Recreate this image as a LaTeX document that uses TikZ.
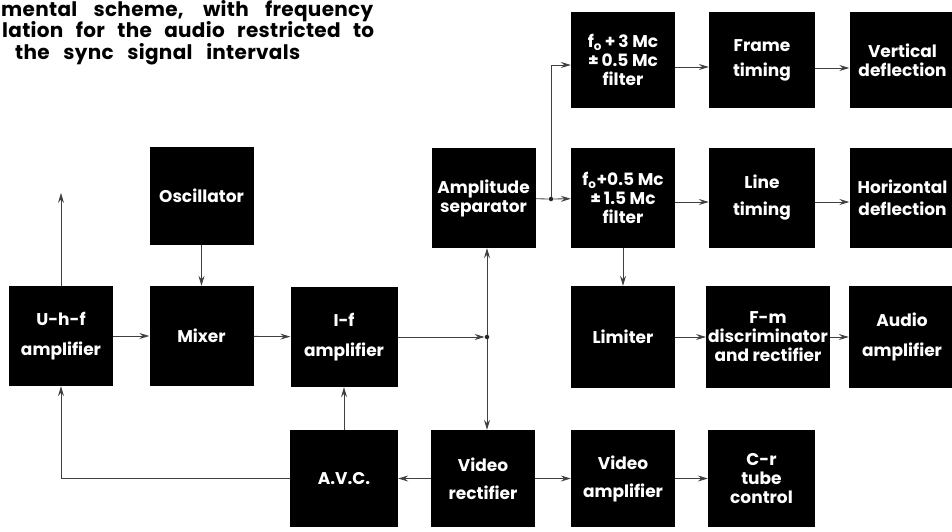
\documentclass[tikz,border=0pt]{standalone}
\usepackage{fontspec}
\setmainfont{Poppins}
\newfontfamily\capfont[LetterSpace=1.5]{Poppins}
\usetikzlibrary{arrows.meta}

\begin{document}
\begin{tikzpicture}[
    x=1pt, y=1pt,
    font=\bfseries\fontsize{17}{19}\selectfont,
    block/.style={
      fill=black, text=white, align=center,
      minimum width=104pt, minimum height=100pt,
      inner sep=2pt
    },
    caption/.style={font=\capfont\bfseries\fontsize{20}{22}\selectfont, inner sep=0pt, anchor=base west},
    wire/.style={line width=0.8pt, draw=black!75},
    arr/.style={wire, -{Stealth[length=10pt,width=6pt,inset=3.5pt]}},
    dot/.style={circle, fill=black!85, inner sep=0pt, minimum size=4.5pt}
  ]
    \useasboundingbox (0,0) rectangle (952,531);

    \node[caption] (capa) at (1,514) {\makebox[372pt][s]{mental scheme, with frequency}};
    \node[caption] (capb) at (2,493) {\makebox[372pt][s]{lation for the audio restricted to}};
    \node[caption] (capc) at (15,471) {\makebox[285pt][s]{the sync signal intervals}};

    \node[block] (uhf) at (61,195) {U-h-f\\[11pt]amplifier};
    \node[block, minimum height=98pt] (osc) at (201.5,335) {Oscillator};
    \node[block] (mix) at (201.5,195) {Mixer};
    \node[block, minimum width=107pt] (if) at (344,194) {I-f\\[11pt]amplifier};
    \node[block, minimum width=108pt, minimum height=97pt] (avc) at (344,52.5) {A.V.C.};
    \node[block] (sep) at (483.5,333) {Amplitude\\separator};
    \node[block, minimum height=97pt] (vrect) at (483,52.5) {Video\\[9pt]rectifier};
    \node[block, minimum height=97pt] (vamp) at (623,52.5) {Video\\[9pt]amplifier};
    \node[block, minimum width=107pt, minimum height=97pt] (crt) at (761.5,52.5) {C-r\\tube\\control};
    \node[block, minimum height=102pt] (lim) at (623,194) {Limiter};
    \node[block, minimum width=118pt, minimum height=102pt] (fm) at (768,194) {F-m\\discriminator\\and rectifier};
    \node[block, minimum width=106pt, minimum height=102pt] (aud) at (902,194) {Audio\\[11pt]amplifier};
    \node[block, minimum height=96pt] (fthree) at (623,471) {f\textsubscript{o}\,+\,3 Mc\\±\,0.5 Mc\\filter};
    \node[block, minimum width=106pt, minimum height=96pt] (frame) at (762,471) {Frame\\[6pt]timing};
    \node[block, minimum width=106pt, minimum height=96pt] (vert) at (902.5,471) {Vertical\\deflection};
    \node[block] (fhalf) at (623,333) {f\textsubscript{o}+0.5 Mc\\±\,1.5 Mc\\filter};
    \node[block, minimum width=106pt] (line) at (762,333) {Line\\[8pt]timing};
    \node[block, minimum width=106pt] (horiz) at (902.5,333) {Horizontal\\[3pt]deflection};

    \node[dot] (jif) at (487,194) {};
    \node[dot] (jsep) at (551,332) {};
    \coordinate (ant) at (61,338);

    \draw[arr] (uhf) -- (mix);
    \draw[arr] (mix) -- (if);
    \draw[arr] (if) -- (jif);
    \draw[arr] (jif) -- (jif |- sep.south);
    \draw[arr] (jif) -- (jif |- vrect.north);
    \draw[arr] (vrect) -- (avc);
    \draw[arr] (avc) -- (if);
    \draw[arr] (avc.west) -| (uhf.south);
    \draw[arr] (uhf) -- (ant);
    \draw[arr] (osc) -- (mix);

    \draw[wire] (sep) -- (jsep);
    \draw[arr] (jsep) -- (fhalf);
    \draw[arr] (jsep) |- ([yshift=-5pt]fthree.west);
    \draw[arr] ([yshift=-7pt]fthree.east) -- ([yshift=-7pt]frame.west);
    \draw[arr] ([yshift=-8pt]frame.east) -- ([yshift=-8pt]vert.west);
    \draw[arr] ([yshift=-4pt]fhalf.east) -- ([yshift=-4pt]line.west);
    \draw[arr] ([yshift=-4pt]line.east) -- ([yshift=-4pt]horiz.west);
    \draw[arr] (fhalf) -- (lim);
    \draw[arr] (lim) -- (fm);
    \draw[arr] (fm) -- (aud);
    \draw[arr] (vrect) -- (vamp);
    \draw[arr] (vamp) -- (crt);
  \end{tikzpicture}
\end{document}
